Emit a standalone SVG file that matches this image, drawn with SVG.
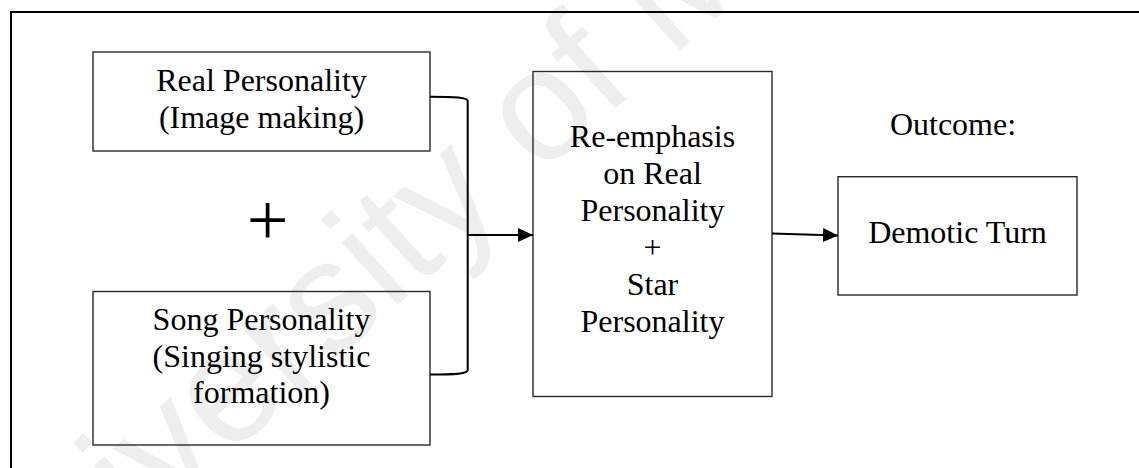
<svg xmlns="http://www.w3.org/2000/svg" width="1139" height="468" viewBox="0 0 1139 468">
  <style>
    .frame { fill: none; stroke: #000; stroke-width: 2; }
    .box { fill: none; stroke: #2a2a2a; stroke-width: 1.4; }
    .label { font-family: "Liberation Serif", "Times New Roman", serif; font-size: 32px; fill: #000; text-anchor: middle; }
    .conn { fill: none; stroke: #000; stroke-width: 2; }
    .mark { font-family: "Liberation Sans", Arial, sans-serif; font-size: 158px; fill: #eeeeee; }
  </style>
  <defs>
    <marker id="arrow" markerUnits="userSpaceOnUse" markerWidth="15" markerHeight="14" refX="15" refY="7" orient="auto">
      <path d="M0,0 L15,7 L0,14 Z" fill="#000"/>
    </marker>
  </defs>

  <rect width="1139" height="468" fill="#fff"/>

  <!-- background watermark -->
  <text class="mark" transform="translate(-8,670) rotate(-42)">University of Malaya</text>

  <!-- outer frame (runs past the right and bottom edges) -->
  <rect class="frame" x="11" y="12" width="1140" height="470"/>

  <g id="real-personality">
    <rect class="box" x="93" y="52" width="337" height="99"/>
    <text class="label" x="261.5" y="90.7">Real Personality</text>
    <text class="label" x="261.5" y="128">(Image making)</text>
  </g>

  <g id="plus-sign">
    <text class="label" x="267.5" y="245" style="font-size:74px">+</text>
  </g>

  <g id="song-personality">
    <rect class="box" x="93" y="291.5" width="337" height="153.5"/>
    <text class="label" x="261.5" y="330">Song Personality</text>
    <text class="label" x="261.5" y="366.7">(Singing stylistic</text>
    <text class="label" x="261.5" y="403">formation)</text>
  </g>

  <g id="re-emphasis">
    <rect class="box" x="533" y="71.5" width="239" height="325"/>
    <text class="label" x="652.5" y="146.7">Re-emphasis</text>
    <text class="label" x="652.5" y="183.8">on Real</text>
    <text class="label" x="652.5" y="221">Personality</text>
    <text class="label" x="652.5" y="258">+</text>
    <text class="label" x="652.5" y="295.3">Star</text>
    <text class="label" x="652.5" y="332.4">Personality</text>
  </g>

  <g id="outcome-heading">
    <text class="label" x="953" y="135">Outcome:</text>
  </g>

  <g id="demotic-turn">
    <rect class="box" x="838" y="176.7" width="239" height="118.3"/>
    <text class="label" x="957.5" y="243.3">Demotic Turn</text>
  </g>

  <g id="connectors">
    <path class="conn" d="M430,96.7 C456,96.7 467.7,97.2 467.7,101 L467.7,370 C467.7,373.6 456,374.6 430,374.6"/>
    <path class="conn" d="M467.7,235 L533,235" marker-end="url(#arrow)"/>
    <path class="conn" d="M772,233.5 L838,235.5" marker-end="url(#arrow)"/>
  </g>
</svg>
